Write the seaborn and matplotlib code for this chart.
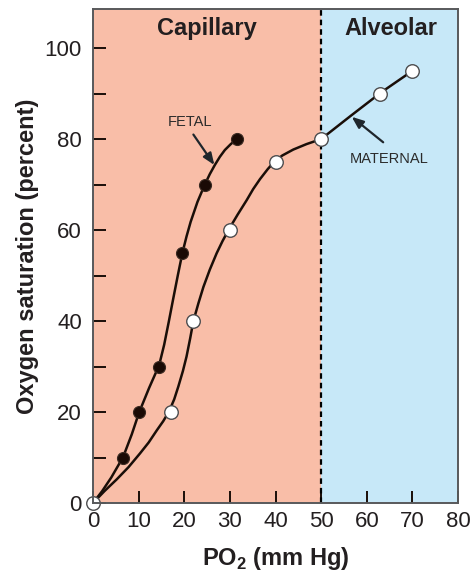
import numpy as np
import pandas as pd
import matplotlib
matplotlib.use("Agg")
import matplotlib.pyplot as plt
import seaborn as sns

# Measured points (PO2 mm Hg, O2 saturation %)
fetal_po2 = [6.5, 10, 14.5, 19.5, 24.5, 31.5]
fetal_sat = [10, 20, 30, 55, 70, 80]
maternal_po2 = [0, 17, 22, 30, 40, 50, 63, 70]
maternal_sat = [0, 20, 40, 60, 75, 80, 90, 95]

# Hand-drawn curves
fetal_curve_x = [0, 2, 4, 6.6, 8.5, 10.1, 12.3, 14.5, 15.6, 16.6, 17.6, 18.6, 19.6, 20.5,
                 21.4, 22.9, 24.5, 25.6, 26.7, 27.8, 28.9, 30.2, 31.5]
fetal_curve_y = [0, 2.6, 5.6, 10.1, 15.1, 19.9, 25.3, 30.3, 34.8, 39.8, 45, 50.1, 55, 58.6,
                 61.8, 66.2, 70, 72.3, 74.3, 76.1, 77.6, 78.9, 80]
maternal_curve_x = [0, 2.5, 5.2, 7.8, 10.3, 12.2, 14, 15.4, 16.7, 17.8, 18.7, 19.7, 20.5,
                    21.3, 22, 23.1, 24.2, 25.6, 27.1, 28.4, 29.8, 31.7, 33.7, 35.1, 36.6,
                    38.3, 39.7, 41.5, 43.9, 46.8, 50, 56.6, 63.2, 70]
maternal_curve_y = [0, 2.6, 5.2, 7.9, 10.9, 13.3, 16, 18, 20.2, 22.8, 25.6, 29, 32.2,
                    36.2, 40, 43.9, 47.5, 51.3, 54.9, 57.6, 60.2, 63.4, 66.6, 69, 71.2,
                    73.4, 75, 76.4, 77.7, 78.9, 80, 85.2, 90.3, 95]

x_ticks = [0, 10, 20, 30, 40, 50, 60, 70, 80]
y_ticks = [0, 10, 20, 30, 40, 50, 60, 70, 80, 90, 100]
y_tick_labels = ["0", "", "20", "", "40", "", "60", "", "80", "", "100"]

sns.set_style("ticks")
plt.rcParams["font.family"] = ["Liberation Sans", "DejaVu Sans"]
plt.rcParams["mathtext.fontset"] = "custom"
plt.rcParams["mathtext.rm"] = "Liberation Sans"
plt.rcParams["mathtext.bf"] = "Liberation Sans:bold"

ink = "#231f20"
line_col = "#1a0e08"

fig = plt.figure(figsize=(4.73, 5.72), dpi=100)
ax = fig.add_axes([93 / 473, 1 - 503 / 572, 365 / 473, 494 / 572])

# background regions
ax.axvspan(0, 50, color="#f9bea8", zorder=0, lw=0)
ax.axvspan(50, 80, color="#c7e8f8", zorder=0, lw=0)
ax.axvline(50, color="black", lw=1.6, ls=(0, (2.5, 1.8)), zorder=1)

# curves
sns.lineplot(x=fetal_curve_x, y=fetal_curve_y, sort=False, estimator=None,
             color=line_col, lw=1.8, ax=ax, zorder=2)
sns.lineplot(x=maternal_curve_x, y=maternal_curve_y, sort=False, estimator=None,
             color=line_col, lw=1.8, ax=ax, zorder=2)

# points
sns.scatterplot(x=fetal_po2, y=fetal_sat, color="#1a0a05", edgecolor="#3a2a22",
                s=75, linewidth=0.8, ax=ax, zorder=3)
sns.scatterplot(x=maternal_po2, y=maternal_sat, color="white", edgecolor="#4d4d4f",
                s=95, linewidth=1.0, ax=ax, zorder=3, clip_on=False)

# region labels
ax.text(25, 102.9, "Capillary", ha="center", va="baseline", fontsize=17,
        fontweight="bold", color=ink)
ax.text(65.3, 102.9, "Alveolar", ha="center", va="baseline", fontsize=17,
        fontweight="bold", color=ink)

# annotations
arrow = dict(arrowstyle="-|>,head_length=0.7,head_width=0.28", color="#1f262c",
             lw=1.6, shrinkA=0, shrinkB=0)
ax.annotate("", xy=(26.6, 74.3), xytext=(22.0, 81.0), arrowprops=arrow, zorder=4)
ax.text(21.2, 82.9, "FETAL", ha="center", va="baseline", fontsize=10.5, color="#2b2b2b")
ax.annotate("", xy=(56.7, 84.9), xytext=(63.6, 79.3), arrowprops=arrow, zorder=4)
ax.text(64.8, 74.8, "MATERNAL", ha="center", va="baseline", fontsize=10.5, color="#2b2b2b")

ax.set_xlim(0, 80)
ax.set_ylim(0, 108.6)
ax.set_xticks(x_ticks)
ax.set_yticks(y_ticks)
ax.set_yticklabels(y_tick_labels)
ax.tick_params(direction="in", length=9, width=1.4, color=line_col,
               labelsize=16, labelcolor=ink)
ax.tick_params(axis="x", pad=6)
ax.tick_params(axis="y", pad=8)
for sp in ax.spines.values():
    sp.set_color("#58595b")
    sp.set_linewidth(1.4)
    sp.set_zorder(5)

ax.set_xlabel(r"PO$_{\mathbf{2}}$ (mm Hg)", fontsize=17, fontweight="bold",
              color=ink, labelpad=9)
ax.set_ylabel("Oxygen saturation (percent)", fontsize=17, fontweight="bold",
              color=ink, labelpad=4)

fig.savefig("out.png", dpi=100)
